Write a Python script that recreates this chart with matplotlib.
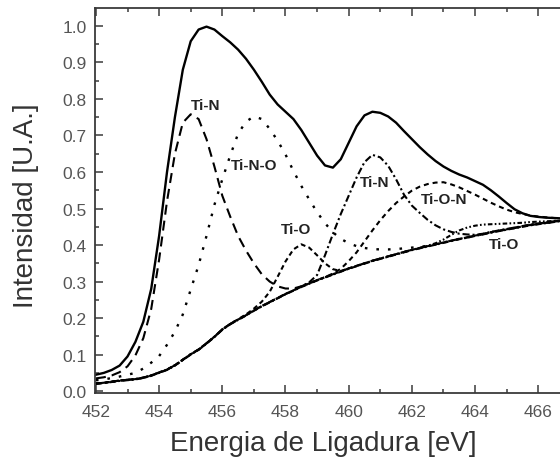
import matplotlib
matplotlib.use("Agg")
import matplotlib.pyplot as plt
from matplotlib.ticker import MultipleLocator

plt.rcParams["font.family"] = ["Liberation Sans", "DejaVu Sans"]

# Binding energy grid (eV), 0.25 eV steps
energia = [
    452.00, 452.25, 452.50, 452.75,
    453.00, 453.25, 453.50, 453.75,
    454.00, 454.25, 454.50, 454.75,
    455.00, 455.25, 455.50, 455.75,
    456.00, 456.25, 456.50, 456.75,
    457.00, 457.25, 457.50, 457.75,
    458.00, 458.25, 458.50, 458.75,
    459.00, 459.25, 459.50, 459.75,
    460.00, 460.25, 460.50, 460.75,
    461.00, 461.25, 461.50, 461.75,
    462.00, 462.25, 462.50, 462.75,
    463.00, 463.25, 463.50, 463.75,
    464.00, 464.25, 464.50, 464.75,
    465.00, 465.25, 465.50, 465.75,
    466.00, 466.25, 466.50, 466.75,
]

# Fitted envelope (Ti 2p)
envolvente = [
    0.045, 0.050, 0.058, 0.070,
    0.095, 0.135, 0.190, 0.280,
    0.425, 0.600, 0.750, 0.880,
    0.958, 0.990, 0.998, 0.990,
    0.972, 0.955, 0.935, 0.910,
    0.880, 0.847, 0.812, 0.785,
    0.765, 0.745, 0.715, 0.680,
    0.645, 0.618, 0.612, 0.635,
    0.680, 0.725, 0.755, 0.765,
    0.762, 0.752, 0.735, 0.712,
    0.690, 0.668, 0.648, 0.630,
    0.615, 0.603, 0.593, 0.585,
    0.575, 0.565, 0.550, 0.533,
    0.515, 0.498, 0.487, 0.480,
    0.477, 0.475, 0.474, 0.473,
]

# Background
fondo = [
    0.020, 0.022, 0.025, 0.028,
    0.030, 0.032, 0.036, 0.042,
    0.050, 0.058, 0.070, 0.085,
    0.100, 0.113, 0.130, 0.148,
    0.168, 0.183, 0.195, 0.207,
    0.220, 0.232, 0.243, 0.254,
    0.265, 0.275, 0.285, 0.294,
    0.303, 0.311, 0.319, 0.327,
    0.335, 0.342, 0.349, 0.356,
    0.362, 0.368, 0.374, 0.380,
    0.386, 0.391, 0.396, 0.401,
    0.406, 0.411, 0.416, 0.420,
    0.425, 0.429, 0.434, 0.438,
    0.442, 0.446, 0.450, 0.454,
    0.457, 0.460, 0.463, 0.466,
]

# Ti-N, 2p3/2
ti_n_a = [
    0.035, 0.038, 0.043, 0.052,
    0.068, 0.098, 0.145, 0.225,
    0.360, 0.520, 0.650, 0.735,
    0.758, 0.745, 0.690, 0.615,
    0.535, 0.478, 0.425, 0.385,
    0.350, 0.320, 0.300, 0.287,
    0.281, 0.281, 0.287, 0.295,
    0.304, 0.312, 0.320, 0.328,
    0.336, 0.343, 0.350, 0.357,
    0.363, 0.369, 0.375, 0.381,
    0.387, 0.392, 0.397, 0.402,
    0.407, 0.412, 0.417, 0.421,
    0.426, 0.430, 0.435, 0.439,
    0.443, 0.447, 0.451, 0.455,
    0.458, 0.461, 0.464, 0.467,
]

# Ti-N-O, 2p3/2
ti_n_o = [
    0.030, 0.032, 0.036, 0.040,
    0.045, 0.050, 0.062, 0.078,
    0.096, 0.127, 0.163, 0.210,
    0.278, 0.345, 0.425, 0.510,
    0.580, 0.645, 0.705, 0.738,
    0.752, 0.745, 0.718, 0.686,
    0.648, 0.603, 0.562, 0.525,
    0.490, 0.460, 0.435, 0.417,
    0.405, 0.397, 0.392, 0.389,
    0.388, 0.388, 0.389, 0.391,
    0.393, 0.395, 0.398, 0.402,
    0.407, 0.412, 0.417, 0.421,
    0.426, 0.430, 0.435, 0.439,
    0.443, 0.447, 0.451, 0.455,
    0.458, 0.461, 0.464, 0.467,
]

# Ti-O, 2p3/2
ti_o_a = [
    0.021, 0.023, 0.026, 0.029,
    0.031, 0.033, 0.037, 0.043,
    0.051, 0.059, 0.071, 0.086,
    0.101, 0.114, 0.131, 0.149,
    0.169, 0.184, 0.197, 0.210,
    0.226, 0.245, 0.272, 0.313,
    0.355, 0.388, 0.402, 0.393,
    0.372, 0.350, 0.334, 0.329,
    0.336, 0.343, 0.350, 0.357,
    0.363, 0.369, 0.375, 0.381,
    0.387, 0.392, 0.397, 0.402,
    0.407, 0.412, 0.417, 0.421,
    0.426, 0.430, 0.435, 0.439,
    0.443, 0.447, 0.451, 0.455,
    0.458, 0.461, 0.464, 0.467,
]

# Ti-N, 2p1/2
ti_n_b = [
    0.021, 0.023, 0.026, 0.029,
    0.031, 0.033, 0.037, 0.043,
    0.051, 0.059, 0.071, 0.086,
    0.101, 0.114, 0.131, 0.149,
    0.169, 0.184, 0.196, 0.208,
    0.221, 0.233, 0.244, 0.255,
    0.266, 0.276, 0.287, 0.298,
    0.318, 0.372, 0.430, 0.485,
    0.535, 0.585, 0.627, 0.647,
    0.640, 0.617, 0.580, 0.538,
    0.508, 0.488, 0.469, 0.454,
    0.443, 0.436, 0.431, 0.429,
    0.428, 0.431, 0.436, 0.440,
    0.444, 0.448, 0.452, 0.456,
    0.459, 0.462, 0.465, 0.468,
]

# Ti-O-N, 2p1/2
ti_o_n = [
    0.021, 0.023, 0.026, 0.029,
    0.031, 0.033, 0.037, 0.043,
    0.051, 0.059, 0.071, 0.086,
    0.101, 0.114, 0.131, 0.149,
    0.169, 0.184, 0.196, 0.208,
    0.221, 0.233, 0.244, 0.255,
    0.266, 0.276, 0.286, 0.295,
    0.304, 0.312, 0.322, 0.335,
    0.356, 0.380, 0.410, 0.440,
    0.468, 0.493, 0.515, 0.533,
    0.549, 0.560, 0.567, 0.571,
    0.572, 0.566, 0.558, 0.548,
    0.538, 0.527, 0.516, 0.506,
    0.497, 0.490, 0.485, 0.481,
    0.478, 0.476, 0.474, 0.472,
]

# Ti-O, 2p1/2
ti_o_b = [
    0.021, 0.023, 0.026, 0.029,
    0.031, 0.033, 0.037, 0.043,
    0.051, 0.059, 0.071, 0.086,
    0.101, 0.114, 0.131, 0.149,
    0.169, 0.184, 0.196, 0.208,
    0.221, 0.233, 0.244, 0.255,
    0.266, 0.276, 0.286, 0.295,
    0.304, 0.312, 0.320, 0.328,
    0.336, 0.343, 0.350, 0.357,
    0.363, 0.369, 0.375, 0.381,
    0.387, 0.392, 0.398, 0.405,
    0.415, 0.428, 0.440, 0.448,
    0.453, 0.456, 0.457, 0.458,
    0.459, 0.460, 0.461, 0.463,
    0.464, 0.465, 0.466, 0.467,
]

# Peak labels: (text, energy, intensity)
etiquetas = [
    ("Ti-N", 455.48, 0.784),
    ("Ti-N-O", 457.00, 0.620),
    ("Ti-O", 458.34, 0.444),
    ("Ti-N", 460.81, 0.573),
    ("Ti-O-N", 463.02, 0.526),
    ("Ti-O", 464.92, 0.403),
]

x_ticks = [452, 454, 456, 458, 460, 462, 464, 466]
y_ticks = [0.0, 0.1, 0.2, 0.3, 0.4, 0.5, 0.6, 0.7, 0.8, 0.9, 1.0]

fig = plt.figure(figsize=(5.6, 4.64), dpi=100)
ax = fig.add_axes([0.1696, 0.1509, 0.848, 0.8297])

lw = 1.5
ax.plot(energia, fondo, color="black", lw=lw, dashes=(3.0, 1.3, 0.9, 1.3))
ax.plot(energia, ti_o_b, color="black", lw=lw, dashes=(2.2, 1.1, 0.8, 1.1, 0.8, 1.1))
ax.plot(energia, ti_o_n, color="black", lw=lw, dashes=(2.4, 1.9))
ax.plot(energia, ti_n_b, color="black", lw=lw, dashes=(3.4, 1.4, 1.0, 1.4))
ax.plot(energia, ti_o_a, color="black", lw=lw, dashes=(2.3, 1.6))
ax.plot(energia, ti_n_o, color="black", lw=1.7, dashes=(1.1, 3.8))
ax.plot(energia, ti_n_a, color="black", lw=lw, dashes=(4.8, 2.9))
ax.plot(energia, envolvente, color="black", lw=1.7, solid_joinstyle="round")

for texto, ex, iy in etiquetas:
    ax.text(ex, iy, texto, ha="center", va="center", fontsize=11,
            fontweight="bold", color="#222222")

ax.set_xlim(451.97, 467.0)
ax.set_ylim(-0.005, 1.049)
ax.set_xticks(x_ticks)
ax.set_yticks(y_ticks)
ax.set_yticklabels([f"{v:.1f}" for v in y_ticks])
ax.xaxis.set_minor_locator(MultipleLocator(1))
ax.yaxis.set_minor_locator(MultipleLocator(0.05))

ax.tick_params(which="both", direction="in", top=True, right=False,
               color="#3a3a3a", width=1.1, labelsize=12.5, labelcolor="#555555")
ax.tick_params(which="major", length=5.5)
ax.tick_params(which="minor", length=3)
ax.tick_params(axis="y", pad=6)
ax.tick_params(axis="x", pad=8)

for s in ax.spines.values():
    s.set_color("#3a3a3a")
    s.set_linewidth(1.3)

ax.set_xlabel("Energia de Ligadura [eV]", fontsize=20, color="#333333")
ax.set_ylabel("Intensidad [U.A.]", fontsize=20, color="#333333")
ax.xaxis.set_label_coords(0.48, -0.095)
ax.yaxis.set_label_coords(-0.118, 0.488)

fig.savefig("out.png", dpi=100, facecolor="white")
